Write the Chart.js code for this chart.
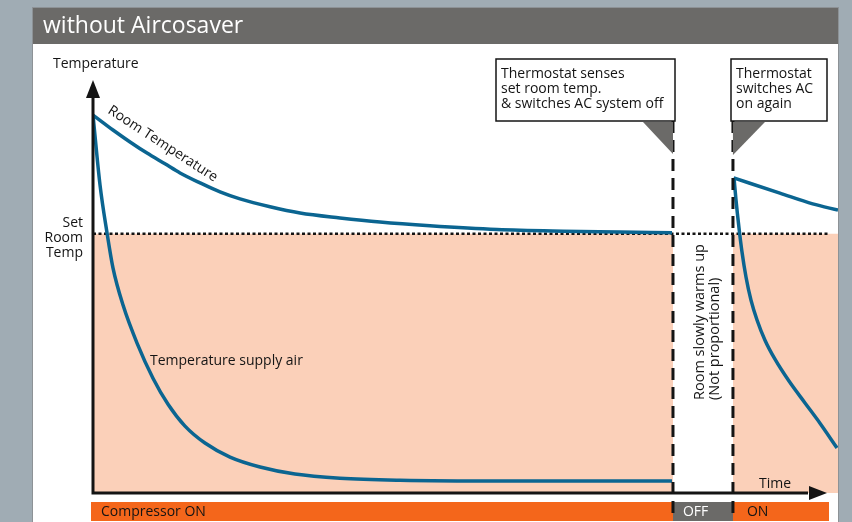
<!DOCTYPE html>
<html>
<head>
<meta charset="utf-8">
<script src="https://cdn.jsdelivr.net/npm/chart.js@4.4.1/dist/chart.umd.min.js"></script>
<style>
    html, body { margin: 0; padding: 0; background: #a0acb4; }
    canvas { display: block; }
</style>
</head>
<body>
<canvas id="chart" width="852" height="522"></canvas>
<script>
// time runs 0..100 and temperature 0..100 (no units on the original)
const roomTime1 = [0, 1.34, 2.68, 4.97, 7.25, 9.66, 11.68, 14.36, 17.05, 19.73, 23.76, 27.79, 33.15, 38.52, 45.23, 54.23, 63.09, 70.74, 77.72];
const roomTemp1 = [91.5, 89.7, 87.9, 85.0, 82.3, 79.7, 77.5, 75.1, 72.9, 71.2, 69.3, 67.8, 66.6, 65.6, 64.7, 63.8, 63.4, 63.2, 63.0];
const supplyTime1 = [0, 0.94, 1.88, 2.68, 4.03, 5.91, 8.05, 10.07, 12.35, 15.03, 18.39, 22.42, 27.11, 33.15, 41.21, 54.63, 77.72];
const supplyTemp1 = [91.5, 74.6, 63.0, 54.5, 45.5, 36.3, 27.8, 21.5, 16.2, 12.1, 8.7, 6.3, 4.6, 3.6, 3.1, 2.9, 2.9];
const roomTime2 = [86.0, 92.2, 96.6, 100];
const roomTemp2 = [76.3, 72.6, 70.0, 68.5];
const supplyTime2 = [86.04, 86.31, 86.71, 87.11, 87.65, 88.32, 89.13, 90.2, 91.54, 93.42, 95.57, 97.58, 99.87];
const supplyTemp2 = [76.3, 70.9, 64.2, 58.4, 52.3, 46.7, 41.9, 37.0, 32.4, 27.1, 21.8, 16.9, 10.9];
const setRoomTemp = 62.8;
const setLineTimes = [0, 98.7];
const switchOffTime = 77.85;
const switchOnTime = 85.9;

const colors = {
    bg: '#a0acb4',
    bar: '#6b6a68',
    pink: '#fbd0b9',
    curve: '#0b6591',
    orange: '#f4661b',
    ink: '#141414'
};
const FONT = '"Open Sans", "DejaVu Sans", sans-serif';

const pts = (xs, ys) => xs.map((x, i) => ({ x, y: ys[i] }));

function curve(xs, ys) {
    return {
        data: pts(xs, ys), borderColor: colors.curve, borderWidth: 3.5, pointRadius: 0,
        cubicInterpolationMode: 'monotone', fill: false, clip: 0, order: 1
    };
}

function band(t0, t1) {
    return {
        data: pts([t0, t1], [setRoomTemp, setRoomTemp]), borderWidth: 0, pointRadius: 0,
        backgroundColor: colors.pink, fill: 'origin', clip: 0, order: 5
    };
}

function text(ctx, str, x, y, size, color, align) {
    ctx.font = size + 'px ' + FONT;
    ctx.fillStyle = color || colors.ink;
    ctx.textAlign = align || 'left';
    ctx.textBaseline = 'alphabetic';
    ctx.fillText(str, x, y);
}

function tri(ctx, a, b, c) {
    ctx.beginPath();
    ctx.moveTo(a[0], a[1]); ctx.lineTo(b[0], b[1]); ctx.lineTo(c[0], c[1]);
    ctx.closePath();
    ctx.fill();
}

function callout(ctx, x, y, w, h, lines) {
    ctx.fillStyle = '#fff';
    ctx.fillRect(x, y, w, h);
    ctx.strokeStyle = colors.ink;
    ctx.lineWidth = 1.5;
    ctx.strokeRect(x, y, w, h);
    lines.forEach((l, i) => text(ctx, l, x + 5, y + 19 + i * 15, 14));
}

const backdrop = {
    id: 'backdrop',
    beforeDraw(chart) {
        const ctx = chart.ctx;
        ctx.save();
        ctx.fillStyle = colors.bg;
        ctx.fillRect(0, 0, chart.width, chart.height);
        ctx.fillStyle = '#fff';
        ctx.fillRect(33, 8, 805, 520);
        ctx.strokeStyle = '#8d9296';
        ctx.lineWidth = 1;
        ctx.strokeRect(32.5, 7.5, 806, 520);
        ctx.fillStyle = colors.bar;
        ctx.fillRect(33, 8, 805, 36);
        text(ctx, 'without Aircosaver', 43, 33, 23, '#fff');
        ctx.restore();
    },
    afterDatasetsDraw(chart) {
        const ctx = chart.ctx;
        const a = chart.chartArea;
        ctx.save();
        ctx.strokeStyle = colors.ink;
        ctx.fillStyle = colors.ink;
        ctx.lineWidth = 3;
        ctx.beginPath();
        ctx.moveTo(a.left, a.bottom + 1.5);
        ctx.lineTo(a.left, a.top + 14);
        ctx.moveTo(a.left - 1.5, a.bottom);
        ctx.lineTo(a.right - 30, a.bottom);
        ctx.stroke();
        tri(ctx, [a.left, a.top], [a.left - 7, a.top + 18], [a.left + 7, a.top + 18]);
        tri(ctx, [a.right - 11, a.bottom], [a.right - 29, a.bottom - 7], [a.right - 29, a.bottom + 7]);
        ctx.restore();
    },
    afterDraw(chart) {
        const ctx = chart.ctx;
        const xs = chart.scales.x;
        const offX = xs.getPixelForValue(switchOffTime);
        const onX = xs.getPixelForValue(switchOnTime);
        ctx.save();

        // compressor status strip
        ctx.fillStyle = colors.orange;
        ctx.fillRect(91, 502, 738, 19);
        ctx.fillStyle = colors.bar;
        ctx.fillRect(offX, 502, onX - offX, 19);
        text(ctx, 'Compressor ON', 101, 516, 14);
        text(ctx, 'OFF', offX + 10, 516, 14, '#fff');
        text(ctx, 'ON', onX + 14, 516, 14);

        // switching moments
        ctx.strokeStyle = colors.ink;
        ctx.lineWidth = 3;
        ctx.setLineDash([12, 7]);
        [offX, onX].forEach(x => {
            ctx.beginPath();
            ctx.moveTo(x, 121);
            ctx.lineTo(x, 515);
            ctx.stroke();
        });
        ctx.setLineDash([]);

        // labels
        text(ctx, 'Temperature', 53, 68, 14);
        text(ctx, 'Set', 83, 227, 14, null, 'right');
        text(ctx, 'Room', 83, 242, 14, null, 'right');
        text(ctx, 'Temp', 83, 257, 14, null, 'right');
        text(ctx, 'Time', 759, 488, 14);
        text(ctx, 'Temperature supply air', 150, 365, 14);

        ctx.save();
        ctx.translate(107, 112.5);
        ctx.rotate(33 * Math.PI / 180);
        text(ctx, 'Room Temperature', 0, 0, 14);
        ctx.restore();

        ctx.save();
        ctx.translate(704, 400);
        ctx.rotate(-Math.PI / 2);
        text(ctx, 'Room slowly warms up', 0, 0, 14.5);
        text(ctx, '(Not proportional)', 0, 15, 14.5);
        ctx.restore();

        // callouts
        callout(ctx, 496, 59, 179, 62, ['Thermostat senses', 'set room temp.', '& switches AC system off']);
        callout(ctx, 731, 59, 96, 62, ['Thermostat', 'switches AC', 'on again']);
        ctx.fillStyle = colors.bar;
        tri(ctx, [offX - 30, 122], [offX, 122], [offX, 154]);
        tri(ctx, [onX, 122], [onX + 32, 122], [onX, 155]);
        ctx.restore();
    }
};

new Chart(document.getElementById('chart'), {
    type: 'line',
    data: {
        datasets: [
            curve(roomTime1, roomTemp1),
            curve(supplyTime1, supplyTemp1),
            curve(roomTime2, roomTemp2),
            curve(supplyTime2, supplyTemp2),
            {
                data: pts(setLineTimes, [setRoomTemp, setRoomTemp]), borderColor: colors.ink,
                borderWidth: 2.5, borderDash: [3, 2.5], pointRadius: 0, fill: false, clip: 0, order: 3
            },
            band(0, switchOffTime),
            band(switchOnTime, 100)
        ]
    },
    options: {
        responsive: false,
        animation: false,
        devicePixelRatio: 1,
        events: [],
        layout: { padding: { left: 93, right: 14, top: 80, bottom: 29 } },
        scales: {
            x: { type: 'linear', min: 0, max: 100, display: false },
            y: { type: 'linear', min: 0, max: 100, display: false }
        },
        plugins: { legend: { display: false }, tooltip: { enabled: false } }
    },
    plugins: [backdrop]
});
</script>
</body>
</html>
